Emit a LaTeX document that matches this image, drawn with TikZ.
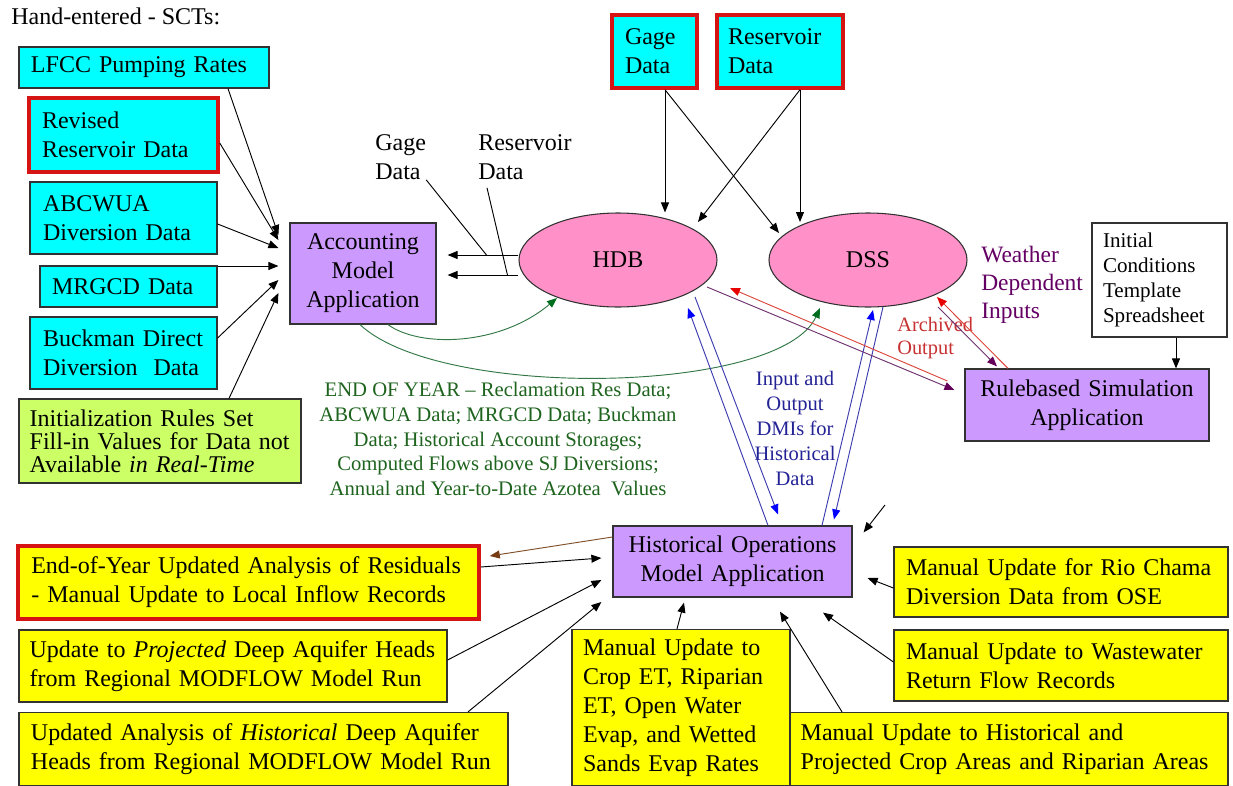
\documentclass[tikz,border=0pt]{standalone}
\usepackage{fontspec}
\setmainfont{Liberation Serif}
\usetikzlibrary{arrows.meta,calc,shapes.geometric}
\definecolor{cyanbox}{RGB}{0,255,255}
\definecolor{purplebox}{RGB}{204,153,255}
\definecolor{yellowbox}{RGB}{255,255,0}
\definecolor{limebox}{RGB}{204,255,102}
\definecolor{pinkell}{RGB}{255,145,200}
\definecolor{edgegray}{RGB}{50,50,50}
\definecolor{rededge}{RGB}{215,20,20}
\definecolor{greentxt}{RGB}{30,100,30}
\definecolor{greenline}{RGB}{50,120,70}
\definecolor{greentip}{RGB}{0,110,30}
\definecolor{bluetxt}{RGB}{35,35,150}
\definecolor{blueline}{RGB}{60,60,175}
\definecolor{bluetip}{RGB}{0,0,255}
\definecolor{purpletxt}{RGB}{100,0,100}
\definecolor{purpleline}{RGB}{110,50,110}
\definecolor{purpletip}{RGB}{100,0,90}
\definecolor{redtxt}{RGB}{200,50,50}
\definecolor{redline}{RGB}{220,70,60}
\definecolor{redtip}{RGB}{230,0,0}
\definecolor{brownline}{RGB}{130,80,40}
\definecolor{browntip}{RGB}{120,60,20}
\tikzset{
  bigfont/.style={font=\fontsize{18}{21.75}\selectfont},
  sctbox/.style={draw=edgegray, line width=0.9pt, rectangle, inner ysep=0pt, bigfont},
  lbox/.style={sctbox, align=left, inner xsep=9pt},
  cbox/.style={sctbox, align=center, inner xsep=4pt},
  redframe/.style={draw=rededge, line width=2.6pt},
  ovalnode/.style={ellipse, draw=edgegray, line width=0.8pt, fill=pinkell, minimum width=148.5pt, minimum height=70.5pt, inner sep=0pt, bigfont},
  freelabel/.style={inner sep=0pt},
  conn/.style={line width=0.7pt, draw=black, -{Triangle[length=7.5pt,width=6pt]}},
  leader/.style={line width=0.7pt, draw=black},
  greenconn/.style={line width=0.7pt, draw=greenline, -{Triangle[length=7.5pt,width=6pt,color=greentip]}},
  blueconn/.style={line width=0.7pt, draw=blueline, -{Triangle[length=7.5pt,width=6pt,color=bluetip]}},
  purpleconn/.style={line width=0.7pt, draw=purpleline, -{Triangle[length=7.5pt,width=6pt,color=purpletip]}},
  redconn/.style={line width=0.7pt, draw=redline, -{Triangle[length=7.5pt,width=6pt,color=redtip]}},
  brownconn/.style={line width=0.7pt, draw=brownline, -{Triangle[length=7.5pt,width=6pt,color=browntip]}},
}
\begin{document}
\begin{tikzpicture}[x=0.75pt,y=-0.75pt]
\fill[white] (0,0) rectangle (1233,786);
\useasboundingbox (0,0) rectangle (1233,786);

% ---- labels
\node[bigfont, freelabel, anchor=base west] (hand) at (11,24) {Hand-entered - SCTs:};

% ---- left input boxes
\node[lbox, fill=cyanbox, minimum width=187.5pt, minimum height=30.75pt, text width=169.5pt] (lfcc) at (144,67.5) {LFCC Pumping Rates};
\node[lbox, redframe, fill=cyanbox, minimum width=141.75pt, minimum height=55.5pt, text width=122.25pt, inner xsep=9.75pt] (revres) at (123.5,135) {Revised\\Reservoir Data};
\node[lbox, fill=cyanbox, minimum width=140.25pt, minimum height=54pt, text width=120.75pt, inner xsep=9.75pt] (abcwua) at (123.5,218) {ABCWUA\\Diversion Data};
\node[lbox, fill=cyanbox, minimum width=132.75pt, minimum height=30.75pt, text width=114.75pt] (mrgcd) at (128.5,286.5) {MRGCD Data};
\node[lbox, fill=cyanbox, minimum width=140.25pt, minimum height=54pt, text width=120.75pt, inner xsep=9.75pt] (buckman) at (123.5,353) {Buckman Direct\\Diversion~ Data};
\node[lbox, fill=limebox, minimum width=211.5pt, minimum height=63pt, text width=195.5pt, inner xsep=8pt, font=\fontsize{18}{17.25}\selectfont] (init) at (160,441) {Initialization Rules Set\\Fill-in Values for Data not\\Available \textit{in Real-Time}};

% ---- accounting model
\node[cbox, fill=purplebox, minimum width=109.5pt, minimum height=75.75pt, text width=100pt] (acct) at (363,273.5) {Accounting\\Model\\Application};

% ---- top boxes
\node[lbox, redframe, fill=cyanbox, minimum width=63.75pt, minimum height=54.75pt, text width=44.25pt, inner xsep=9.75pt] (gagebox) at (654.5,51.5) {Gage\\Data};
\node[lbox, redframe, fill=cyanbox, minimum width=94.5pt, minimum height=54.75pt, text width=78pt, inner xsep=8.25pt] (resbox) at (780,51.5) {Reservoir\\Data};

% ---- databases
\node[ovalnode] (hdb) at (618,260) {HDB};
\node[ovalnode] (dss) at (868,260) {DSS};

% ---- free labels near HDB
\node[bigfont, freelabel, align=left, anchor=west] (glbl) at (375,157) {Gage\\Data};
\node[bigfont, freelabel, align=left, anchor=west] (rlbl) at (478,157) {Reservoir\\Data};

% ---- right side
\node[cbox, fill=purplebox, minimum width=180pt, minimum height=54pt, text width=175pt] (rule) at (1087,405) {Rulebased Simulation\\Application};
\node[sctbox, align=left, fill=white, minimum width=101.25pt, minimum height=85.5pt, text width=84.75pt, inner xsep=8.25pt, font=\fontsize{15.8}{18.75}\selectfont] (initcond) at (1159.5,280) {Initial\\Conditions\\Template\\Spreadsheet};
\node[freelabel, align=left, anchor=west, text=purpletxt, font=\fontsize{17.6}{21}\selectfont] (weather) at (981,285) {Weather\\Dependent\\Inputs};
\node[freelabel, align=left, anchor=west, text=redtxt, font=\fontsize{15.3}{17.25}\selectfont] (archived) at (897,338) {Archived\\Output};
\node[freelabel, align=center, text=bluetxt, font=\fontsize{15.4}{18.75}\selectfont] (dmi) at (795,428) {Input and\\Output\\DMIs for\\Historical\\Data};
\node[freelabel, align=center, text=greentxt, font=\fontsize{15.5}{18.4}\selectfont] (eoytxt) at (498,439) {END OF YEAR – Reclamation Res Data;\\ABCWUA Data; MRGCD Data; Buckman\\Data; Historical Account Storages;\\Computed Flows above SJ Diversions;\\Annual and Year-to-Date Azotea~ Values};

% ---- historical operations and its inputs
\node[cbox, fill=purplebox, minimum width=179.25pt, minimum height=53.25pt, text width=170pt] (hist) at (732.5,561.5) {Historical Operations\\Model Application};
\node[lbox, redframe, fill=yellowbox, minimum width=345.75pt, minimum height=54.75pt, text width=325.75pt, inner xsep=10pt] (eoy) at (248.5,582.5) {End-of-Year Updated Analysis of Residuals\\- Manual Update to Local Inflow Records};
\node[lbox, fill=yellowbox, minimum width=321pt, minimum height=54pt, text width=305pt, inner xsep=8pt] (proj) at (233,666) {Update to \textit{Projected} Deep Aquifer Heads\\from Regional MODFLOW Model Run};
\node[lbox, fill=yellowbox, minimum width=366.75pt, minimum height=54.75pt, text width=348.75pt] (histaq) at (263.5,749) {Updated Analysis of \textit{Historical} Deep Aquifer\\Heads from Regional MODFLOW Model Run};
\node[lbox, fill=yellowbox, minimum width=163.5pt, minimum height=117pt, text width=147pt, inner xsep=8.25pt] (cropet) at (681,707.5) {Manual Update to\\Crop ET, Riparian\\ET, Open Water\\Evap, and Wetted\\Sands Evap Rates};
\node[lbox, fill=yellowbox, minimum width=250.5pt, minimum height=52.5pt, text width=232.5pt] (rio) at (1061,582) {Manual Update for Rio Chama\\Diversion Data from OSE};
\node[lbox, fill=yellowbox, minimum width=250.5pt, minimum height=53.25pt, text width=232.5pt] (waste) at (1061,665.5) {Manual Update to Wastewater\\Return Flow Records};
\node[lbox, fill=yellowbox, minimum width=328.5pt, minimum height=54.75pt, text width=312.5pt, inner xsep=8pt] (croparea) at (1009,749) {Manual Update to Historical and\\Projected Crop Areas and Riparian Areas};

% ---- connectors into accounting
\draw[conn] (lfcc.south -| 228,0) -- ($(acct.west |- 0,235)+(-11,0)$);
\draw[conn] (revres.east |- 0,143) -- ($(acct.west |- 0,240)+(-11,0)$);
\draw[conn] (abcwua.east |- 0,224) -- ($(acct.west |- 0,248)+(-11,0)$);
\draw[conn] (mrgcd.east |- 0,266) -- ($(acct.west |- 0,266)+(-11,0)$);
\draw[conn] (buckman.east |- 0,338) -- ($(acct.west |- 0,280)+(-11,0)$);
\draw[conn] (init.north -| 229,0) -- ($(acct.west |- 0,293)+(-11,0)$);

% ---- HDB to accounting
\draw[conn] (hdb.west |- 0,255) -- ($(acct.east |- 0,255)+(11,0)$);
\draw[conn] (hdb.west |- 0,275) -- ($(acct.east |- 0,275)+(11,0)$);
\draw[leader] (glbl.south east) -- ($(hdb.west |- 0,255)+(-32,0)$);
\draw[leader] ($(rlbl.south west)+(9,8)$) -- ($(hdb.west |- 0,275)+(-11,0)$);

% ---- top boxes to databases
\draw[conn] (gagebox.south -| 665,0) -- (hdb.north -| 665,0);
\draw[conn] (gagebox.south -| 665,0) -- ($(dss.center)+(-89,-27)$);
\draw[conn] (resbox.south -| 800,0) -- ($(dss.center)+(-68,-38)$);
\draw[conn] (resbox.south -| 800,0) -- ($(hdb.center)+(80,-38)$);

% ---- green end-of-year curves
\draw[greenconn] (acct.south -| 388,0) .. controls (420,348) and (500,346) .. ($(hdb.center)+(-61,38)$);
\draw[greenconn] (acct.south -| 360,0) .. controls (440,400) and (780,395) .. ($(dss.center)+(-48,48)$);

% ---- DMIs
\draw[blueconn] (hist.north -| 768,0) -- ($(hdb.center)+(70,48)$);
\draw[blueconn] ($(hdb.center)+(77,37)$) -- ($(hist.north -| 778,0)+(0,-11)$);
\draw[blueconn] (hist.north -| 822,0) -- ($(dss.center)+(5,50)$);
\draw[blueconn] ($(dss.center)+(15,47)$) -- ($(hist.north -| 834,0)+(0,-6)$);

% ---- rulebased
\draw[purpleconn] ($(hdb.center)+(89,27)$) -- ($(rule.west |- 0,390)+(-10,0)$);
\draw[redconn] ($(rule.west |- 0,381)+(-17,0)$) -- ($(hdb.center)+(112,28)$);
\draw[purpleconn] ($(dss.center)+(70,47)$) -- ($(rule.north -| 997,0)+(0,-2)$);
\draw[redconn] (rule.north -| 1008,0) -- ($(dss.center)+(69,37)$);
\draw[conn] (initcond.south -| 1176,0) -- (rule.north -| 1176,0);

% ---- historical operations inputs
\draw[conn] (eoy.east |- 0,567) -- ($(hist.west |- 0,558)+(-11,0)$);
\draw[brownconn] (hist.west |- 0,537) -- ($(eoy.east |- 0,556)+(9,0)$);
\draw[conn] (proj.east |- 0,660) -- ($(hist.west |- 0,580)+(-11,0)$);
\draw[conn] (histaq.north -| 468,0) -- ($(hist.west |- 0,602)+(-11,0)$);
\draw[conn] (cropet.north -| 677,0) -- ($(hist.south -| 684,0)+(0,5)$);
\draw[conn] (croparea.north -| 842,0) -- ($(hist.south -| 780,0)+(0,14)$);
\draw[conn] (waste.west |- 0,662) -- ($(hist.south -| 823,0)+(0,15)$);
\draw[conn] (rio.west |- 0,588) -- ($(hist.east |- 0,578)+(15,0)$);
\coordinate (freetail) at (885,505);
\draw[conn] (freetail) -- ($(hist.north east)+(11,7)$);
\end{tikzpicture}
\end{document}
